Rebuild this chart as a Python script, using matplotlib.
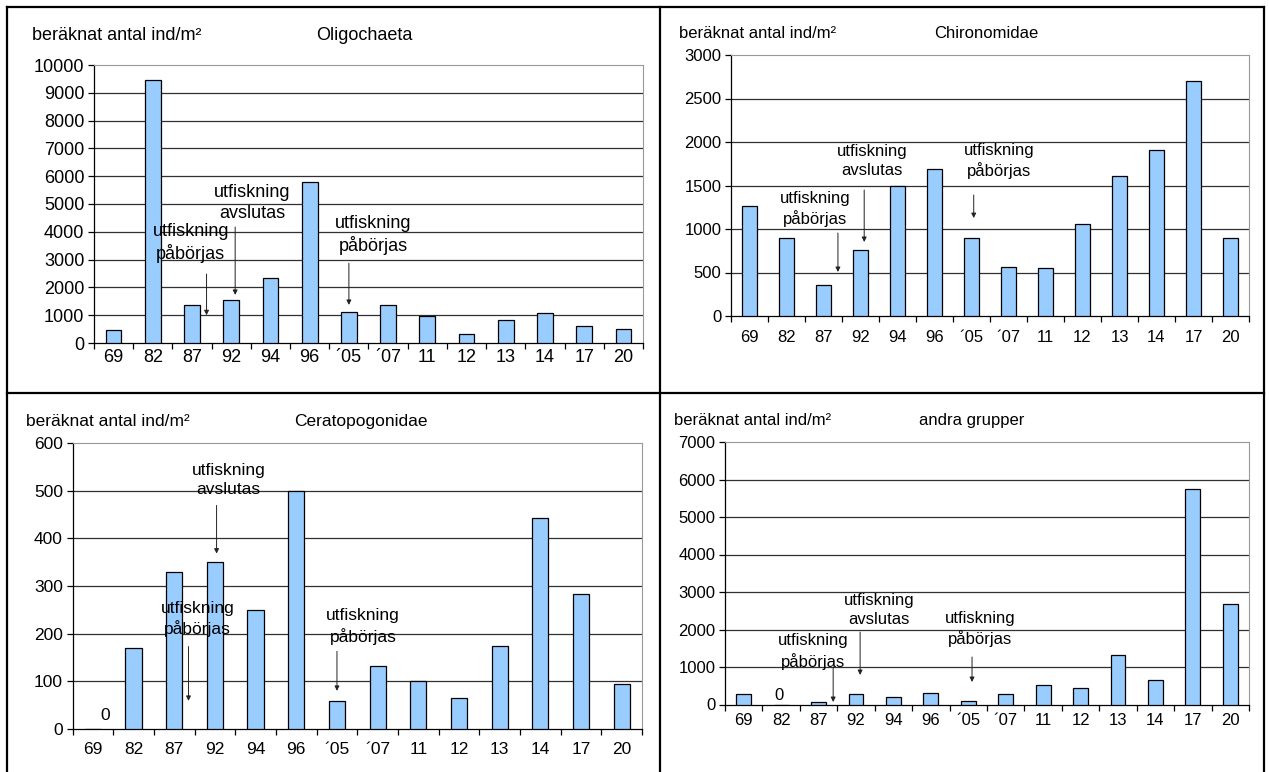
import numpy as np
import matplotlib
matplotlib.use('Agg')
import matplotlib.pyplot as plt
from matplotlib.lines import Line2D

plt.rcParams['font.family'] = ['Liberation Sans', 'DejaVu Sans']

W, H = 1269, 772

years = ['69', '82', '87', '92', '94', '96', '´05', '´07', '11', '12', '13', '14', '17', '20']

oligochaeta = [450, 9450, 1350, 1550, 2350, 5800, 1100, 1350, 980, 310, 810, 1070, 600, 490]
chironomidae = [1270, 900, 355, 760, 1500, 1695, 900, 567, 552, 1057, 1605, 1912, 2700, 900]
ceratopogonidae = [0, 169, 330, 350, 250, 500, 59, 132, 101, 66, 175, 442, 283, 95]
andra_grupper = [286, 0, 63, 269, 197, 304, 90, 269, 510, 439, 1316, 645, 5748, 2686]

ylabel = 'beräknat antal ind/m²'
start_txt = 'utfiskning\npåbörjas'
end_txt = 'utfiskning\navslutas'

fig = plt.figure(figsize=(W / 100, H / 100), dpi=100)


def px_rect(x0, y0, x1, y1):
    return [x0 / W, 1 - y1 / H, (x1 - x0) / W, (y1 - y0) / H]


def panel(rect, values, ymax, ystep, title, ylab_xy, title_xy, fs, notes, pad, zero=None):
    ax = fig.add_axes(px_rect(*rect))
    x = np.arange(len(years))
    ax.bar(x, values, width=0.4, color='#99CCFF', edgecolor='black', linewidth=0.9, zorder=3)
    ax.set_xlim(-0.5, len(years) - 0.5)
    ax.set_ylim(0, ymax)
    yt = np.arange(0, ymax + 1, ystep)
    ax.set_yticks(yt)
    for y in yt[1:-1]:
        ax.axhline(y, color='#303030', lw=0.9, zorder=1)
    ax.set_xticks(x)
    ax.set_xticklabels(years)
    ax.set_xticks(np.arange(-0.5, len(years), 1), minor=True)
    ax.tick_params(axis='x', which='major', length=0, pad=pad, labelsize=fs)
    ax.tick_params(axis='x', which='minor', length=4, width=0.9, direction='out')
    ax.tick_params(axis='y', length=4, width=0.9, direction='out', pad=3, labelsize=fs)
    for s in ['top', 'right']:
        ax.spines[s].set_color('#999999')
    for s in ['left', 'bottom']:
        ax.spines[s].set_linewidth(0.9)

    for txt, tx, ty, arx, ay0, ay1 in notes:
        ax.text(tx, ty, txt, ha='center', va='center', fontsize=fs, linespacing=1.3, zorder=5)
        ax.annotate('', xy=(arx, ay1), xytext=(arx, ay0),
                    arrowprops=dict(arrowstyle='-|>', lw=0.7, color='#222222', mutation_scale=7,
                                    shrinkA=0, shrinkB=0), zorder=5)
    if zero is not None:
        ax.text(zero[0], zero[1], '0', ha='center', va='center', fontsize=fs, zorder=5)

    fig.text(ylab_xy[0] / W, 1 - ylab_xy[1] / H, ylabel, ha='left', va='center', fontsize=fs)
    fig.text(title_xy[0] / W, 1 - title_xy[1] / H, title, ha='center', va='center', fontsize=fs)
    return ax


panel((94, 65, 643, 343), oligochaeta, 10000, 1000, 'Oligochaeta', (32, 35), (364, 35), 13,
      [(start_txt, 1.97, 3600, 2.37, 2480, 1000),
       (end_txt, 3.53, 5020, 3.1, 4170, 1730),
       (start_txt, 6.63, 3880, 6.0, 2870, 1370)], pad=4.5)

panel((731, 55, 1249, 316), chironomidae, 3000, 500, 'Chironomidae', (679, 33), (986, 33), 12,
      [(start_txt, 1.77, 1230, 2.39, 954, 506),
       (end_txt, 3.31, 1782, 3.1, 1448, 851),
       (start_txt, 6.74, 1782, 6.06, 1391, 1126)], pad=10)

panel((72.6, 443, 642, 729), ceratopogonidae, 600, 100, 'Ceratopogonidae', (26, 421), (361, 421), 12.5,
      [(start_txt, 2.57, 230, 2.35, 173, 59),
       (end_txt, 3.34, 523, 3.04, 469, 368),
       (start_txt, 6.64, 215, 6.0, 163, 80)], pad=9.5, zero=(0.29, 29))

panel((725, 442, 1249, 704.5), andra_grupper, 7000, 1000, 'andra grupper', (674, 420), (972, 420), 12,
      [(start_txt, 1.85, 1413, 2.39, 1000, 67),
       (end_txt, 3.62, 2520, 3.11, 1933, 787),
       (start_txt, 6.32, 2013, 6.1, 1267, 600)], pad=6, zero=(0.94, 240))

# outer frame and dividers (bottom edge is cut off in the original)
for xs, ys in [((7, 1264), (7, 7)), ((7, 7), (7, 772)), ((1264, 1264), (7, 772)),
               ((660, 660), (7, 772)), ((7, 1264), (393, 393))]:
    fig.add_artist(Line2D([xs[0] / W, xs[1] / W], [1 - ys[0] / H, 1 - ys[1] / H],
                          transform=fig.transFigure, color='black', lw=1.6))

fig.savefig('out.png', dpi=100)
